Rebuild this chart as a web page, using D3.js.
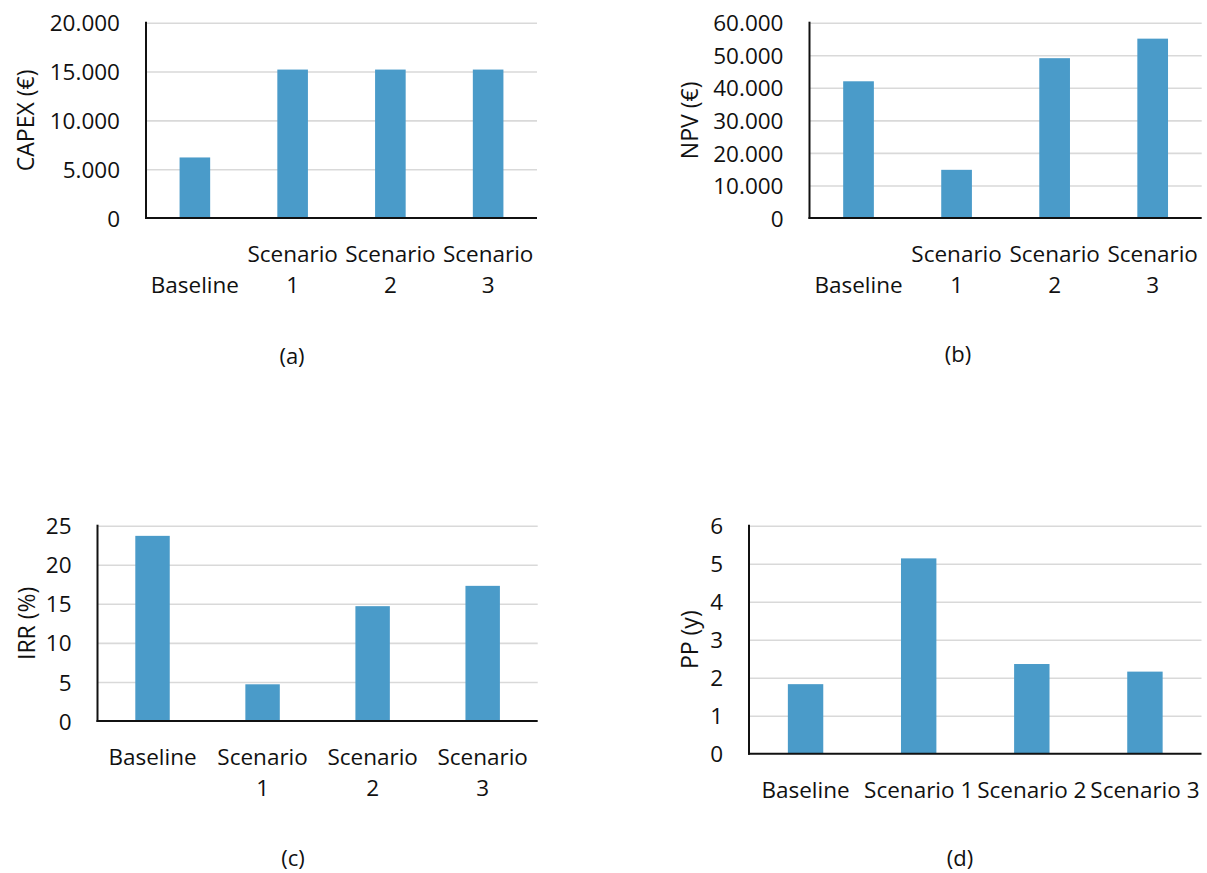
<!DOCTYPE html>
<html>
<head>
<meta charset="utf-8">
<script src="https://cdn.jsdelivr.net/npm/d3@7"></script>
<style>
  html, body { margin: 0; padding: 0; background: #fff; }
  svg { display: block; }
  text { font-family: "Open Sans", "Noto Sans", sans-serif; fill: #111; }
</style>
</head>
<body>
<svg id="chart" width="1207" height="873"></svg>
<script>
// Scenario categories shared by all four panels
const categories = ["Baseline", "Scenario 1", "Scenario 2", "Scenario 3"];

// Economic indicators per scenario
const capexValues = [6200, 15200, 15200, 15200];   // CAPEX (€)
const npvValues   = [42000, 14800, 49100, 55100];  // NPV (€)
const irrValues   = [23.7, 4.7, 14.7, 17.3];       // IRR (%)
const ppValues    = [1.83, 5.14, 2.36, 2.16];      // payback period (years)

// Value-axis ticks
const capexTicks = [0, 5000, 10000, 15000, 20000];
const npvTicks   = [0, 10000, 20000, 30000, 40000, 50000, 60000];
const irrTicks   = [0, 5, 10, 15, 20, 25];
const ppTicks    = [0, 1, 2, 3, 4, 5, 6];

const euroLocale = d3.formatLocale({ decimal: ",", thousands: ".", grouping: [3], currency: ["", " €"] });
const fmtThousands = euroLocale.format(",d");
const fmtInt = d3.format("d");

const BAR_COLOR = "#4a9bc9";
const GRID_COLOR = "#d9d9d9";
const AXIS_COLOR = "#111";
const FONT_SIZE = 22.5;

const panels = [
  { values: capexValues, ticks: capexTicks, fmt: fmtThousands, title: "CAPEX (€)", caption: "(a)",
    x0: 146, x1: 537, y0: 22.7, y1: 218, titleX: 26, capX: 292, capY: 356, labels: "wrapBottom" },
  { values: npvValues, ticks: npvTicks, fmt: fmtThousands, title: "NPV (€)", caption: "(b)",
    x0: 809.5, x1: 1201.7, y0: 22.7, y1: 218, titleX: 690, capX: 958, capY: 354, labels: "wrapBottom" },
  { values: irrValues, ticks: irrTicks, fmt: fmtInt, title: "IRR (%)", caption: "(c)",
    x0: 97.5, x1: 537.7, y0: 525.7, y1: 721, titleX: 27, capX: 293, capY: 858, labels: "wrapTop" },
  { values: ppValues, ticks: ppTicks, fmt: fmtInt, title: "PP (y)", caption: "(d)",
    x0: 749, x1: 1201.5, y0: 525.7, y1: 753.7, titleX: 690, capX: 960, capY: 858, labels: "single" }
];

const svg = d3.select("#chart");

function drawPanel(p) {
  const g = svg.append("g");

  const x = d3.scaleBand()
    .domain(categories)
    .range([p.x0, p.x1])
    .paddingInner(0.687)
    .paddingOuter(0.3435);

  const y = d3.scaleLinear()
    .domain([0, d3.max(p.ticks)])
    .range([p.y1, p.y0]);

  // horizontal gridlines
  const grid = g.append("g")
    .attr("transform", `translate(${p.x0},0)`)
    .call(d3.axisLeft(y).tickValues(p.ticks.slice(1)).tickSize(-(p.x1 - p.x0)).tickFormat(""));
  grid.select(".domain").remove();
  grid.selectAll("line").attr("stroke", GRID_COLOR).attr("stroke-width", 1.6);

  // bars
  g.append("g").selectAll("rect")
    .data(p.values)
    .join("rect")
    .attr("x", (d, i) => x(categories[i]))
    .attr("width", x.bandwidth())
    .attr("y", d => y(d))
    .attr("height", d => y(0) - y(d))
    .attr("fill", BAR_COLOR);

  // value axis labels
  const yAxis = g.append("g")
    .attr("transform", `translate(${p.x0},0)`)
    .call(d3.axisLeft(y).tickValues(p.ticks).tickSize(0).tickPadding(26).tickFormat(p.fmt));
  yAxis.select(".domain").remove();
  yAxis.selectAll("text")
    .attr("font-size", FONT_SIZE)
    .attr("font-family", "Open Sans, Noto Sans, sans-serif")
    .attr("fill", "#111")
    .attr("dy", "0.36em");

  // axis lines
  g.append("line")
    .attr("x1", p.x0).attr("x2", p.x0)
    .attr("y1", p.y0 - 1).attr("y2", p.y1 + 1)
    .attr("stroke", AXIS_COLOR).attr("stroke-width", 2);
  g.append("line")
    .attr("x1", p.x0 - 1).attr("x2", p.x1)
    .attr("y1", p.y1).attr("y2", p.y1)
    .attr("stroke", AXIS_COLOR).attr("stroke-width", 2);

  // category labels
  const xAxis = g.append("g")
    .attr("transform", `translate(0,${p.y1})`)
    .call(d3.axisBottom(x).tickSize(0).tickFormat(""));
  xAxis.select(".domain").remove();
  const lineGap = 31;
  const firstLine = 36;
  xAxis.selectAll(".tick").each(function (cat) {
    const tick = d3.select(this);
    let lines;
    if (p.labels === "single") {
      lines = [cat];
    } else {
      lines = cat.split(" ");
    }
    let startIndex = 0;
    if (p.labels === "wrapBottom" && lines.length === 1) startIndex = 1;
    tick.select("text").remove();
    lines.forEach((ln, k) => {
      tick.append("text")
        .attr("x", 0)
        .attr("y", firstLine + (startIndex + k) * lineGap)
        .attr("dy", "0.36em")
        .attr("text-anchor", "middle")
        .attr("font-size", FONT_SIZE)
        .attr("fill", "#111")
        .text(ln);
    });
  });

  // value axis title
  g.append("text")
    .attr("transform", `translate(${p.titleX},${(p.y0 + p.y1) / 2}) rotate(-90)`)
    .attr("text-anchor", "middle")
    .attr("dy", "0.35em")
    .attr("font-size", 23)
    .text(p.title);

  // panel caption
  g.append("text")
    .attr("x", p.capX)
    .attr("y", p.capY)
    .attr("text-anchor", "middle")
    .attr("dy", "0.35em")
    .attr("font-size", 22)
    .text(p.caption);
}

panels.forEach(drawPanel);
</script>
</body>
</html>
